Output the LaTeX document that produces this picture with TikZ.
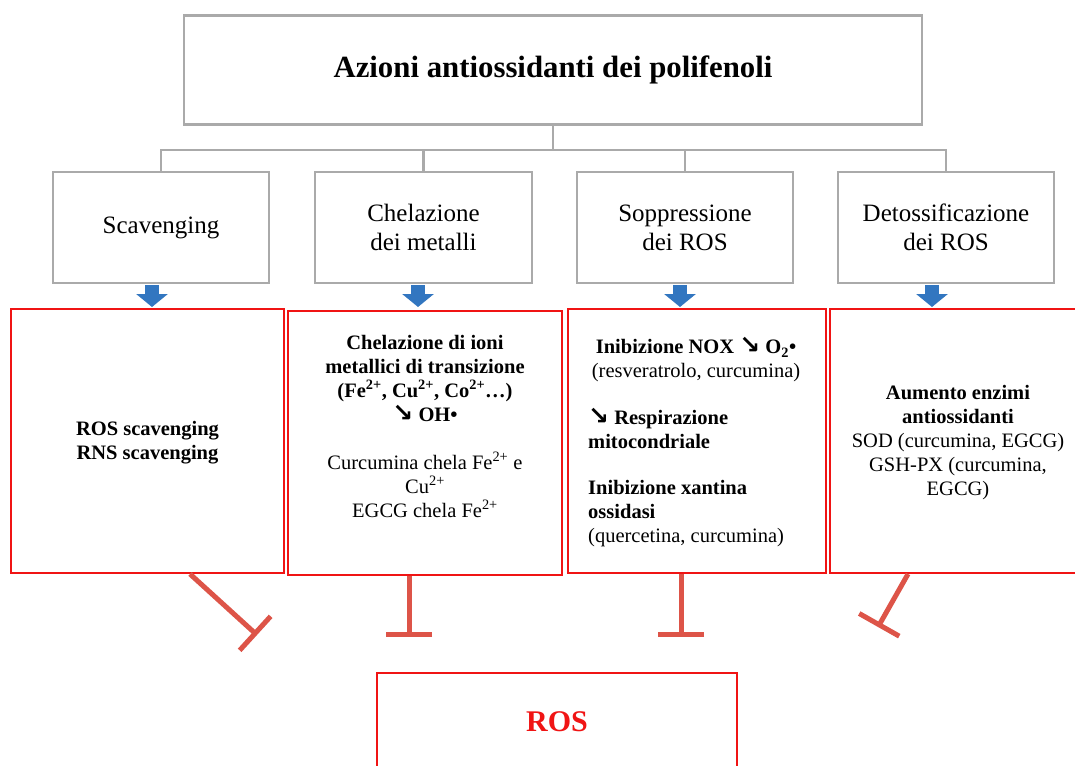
\documentclass[tikz,border=0pt]{standalone}
\usepackage{fontspec}
\setmainfont{Liberation Serif}
\newfontfamily\symfont{DejaVu Sans}
\usetikzlibrary{arrows.meta}
\definecolor{boxred}{RGB}{240,20,20}
\definecolor{inhred}{RGB}{221,84,72}
\definecolor{arrblue}{RGB}{50,118,192}
\definecolor{treegray}{RGB}{170,170,170}
\newcommand{\dnarrow}{{\symfont\bfseries\fontsize{25}{24}\selectfont\char"2198}}
\begin{document}
\begin{tikzpicture}[x=1pt,y=-1pt,
  graybox/.style={draw=treegray, line width=2.5pt, fill=white, inner sep=0pt, align=center,
    font=\fontsize{25}{29}\selectfont},
  redbox/.style={draw=boxred, line width=1.8pt, inner sep=0pt},
  treeline/.style={draw=treegray, line width=2.2pt},
  inhib/.style={draw=inhred, line width=5pt, -{Bar[width=46pt]}},
  bluearrow/.style={draw=arrblue, line width=14pt, -{Triangle[width=31pt,length=13pt]}},
  txt/.style={inner sep=0pt, font=\fontsize{20.5}{24}\selectfont}]
\useasboundingbox (0,0) rectangle (1075,765);
\fill[white] (0,0) rectangle (1075,765);

% top box
\node[graybox, minimum width=738pt, minimum height=109pt,
  font=\fontsize{30.8}{34}\selectfont\bfseries] (top) at (553,70) {Azioni antiossidanti dei polifenoli};

% gray boxes
\node[graybox, minimum width=216pt, minimum height=111pt] (g1) at (161,227.5) {Scavenging};
\node[graybox, minimum width=217pt, minimum height=111pt] (g2) at (423.5,227.5) {Chelazione\\dei metalli};
\node[graybox, minimum width=216pt, minimum height=111pt] (g3) at (685,227.5) {Soppressione\\dei ROS};
\node[graybox, minimum width=216pt, minimum height=111pt] (g4) at (946,227.5) {Detossificazione\\dei ROS};

% tree connectors
\coordinate (hb) at (553,150);
\draw[treeline] (top.south) -- (hb);
\draw[treeline] (g1.north) |- (hb) -| (g4.north);
\draw[treeline] (g2.north) -- (g2.north |- hb);
\draw[treeline] (g3.north) -- (g3.north |- hb);

% red boxes
\node[redbox, minimum width=273pt, minimum height=264pt] (r1) at (147.5,441) {};
\node[redbox, minimum width=274pt, minimum height=264pt] (r2) at (425,443) {};
\node[redbox, minimum width=258pt, minimum height=264pt] (r3) at (697,441) {};
\node[redbox, minimum width=260pt, minimum height=264pt] (r4) at (960,441) {};

% blue arrows
\coordinate (a1s) at (152,285); \coordinate (a1e) at (152,307);
\coordinate (a2s) at (418,285); \coordinate (a2e) at (418,307);
\coordinate (a3s) at (680,285); \coordinate (a3e) at (680,307);
\coordinate (a4s) at (932,285); \coordinate (a4e) at (932,307);
\draw[bluearrow] (a1s) -- (a1e);
\draw[bluearrow] (a2s) -- (a2e);
\draw[bluearrow] (a3s) -- (a3e);
\draw[bluearrow] (a4s) -- (a4e);

% texts in red boxes
\node[txt, align=center, font=\fontsize{20.5}{24}\selectfont\bfseries] (t1) at (147.5,443)
  {ROS scavenging\\RNS scavenging};
\node[txt, align=center] (t2) at (425,426)
  {\textbf{Chelazione di ioni}\\
   \textbf{metallici di transizione}\\
   \textbf{(Fe\textsuperscript{2+}, Cu\textsuperscript{2+}, Co\textsuperscript{2+}…)}\\
   \textbf{\dnarrow\ OH•}\\[24pt]
   Curcumina chela Fe\textsuperscript{2+} e\\
   Cu\textsuperscript{2+}\\
   EGCG chela Fe\textsuperscript{2+}};
\node[txt, align=center] (t3a) at (696,360)
  {\textbf{Inibizione NOX \dnarrow\ O\textsubscript{2}•}\\
   (resveratrolo, curcumina)};
\node[txt, align=left, anchor=west] (t3b) at (588,478)
  {\textbf{\dnarrow\ Respirazione}\\
   \textbf{mitocondriale}\\[22pt]
   \textbf{Inibizione xantina}\\
   \textbf{ossidasi}\\
   (quercetina, curcumina)};
\node[txt, align=center] (t4) at (958,443)
  {\textbf{Aumento enzimi}\\
   \textbf{antiossidanti}\\
   SOD (curcumina, EGCG)\\
   GSH-PX (curcumina,\\
   EGCG)};

% ROS box
\node[redbox, minimum width=360pt, minimum height=117pt] (ros) at (557,731.5) {};
\node[inner sep=0pt, text=boxred, font=\fontsize{30}{34}\selectfont\bfseries] (rostxt) at (557,722) {ROS};

% inhibition connectors
\coordinate (i1s) at (190,574); \coordinate (i1e) at (257,635);
\coordinate (i2s) at (409,576); \coordinate (i2e) at (409,637);
\coordinate (i3s) at (681,574); \coordinate (i3e) at (681,637);
\coordinate (i4s) at (908,574); \coordinate (i4e) at (878,627);
\draw[inhib] (i1s) -- (i1e);
\draw[inhib] (i2s) -- (i2e);
\draw[inhib] (i3s) -- (i3e);
\draw[inhib] (i4s) -- (i4e);
\end{tikzpicture}
\end{document}
